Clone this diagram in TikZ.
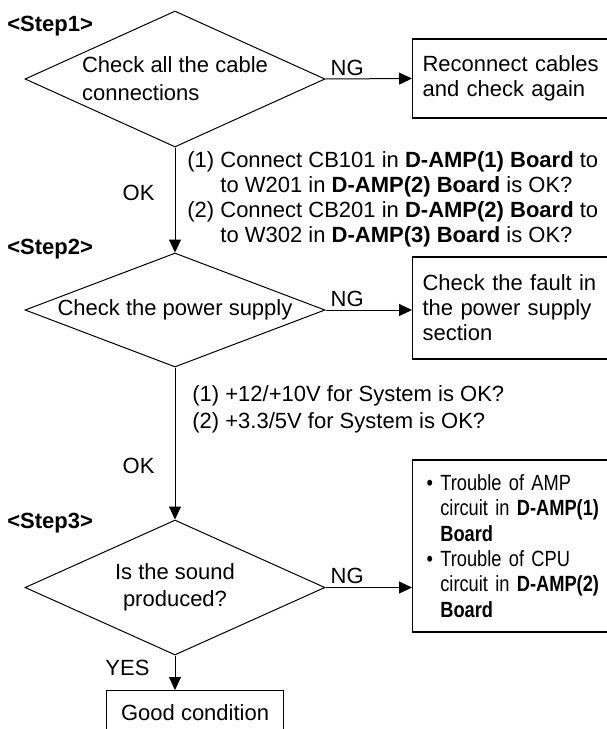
\documentclass[tikz,border=0pt]{standalone}
\usepackage{fontspec}
\setmainfont{Liberation Sans}
\newfontfamily\narrowsans[FakeStretch=0.83]{Liberation Sans}
\usetikzlibrary{arrows.meta,shapes.geometric}
\tikzset{
  decision/.style={diamond, draw=black, line width=0.5pt, inner sep=0pt,
                   minimum width=150pt, aspect=#1},
  outbox/.style={rectangle, draw=black, line width=0.6pt, anchor=west,
                 align=left, text width=95pt, inner xsep=5pt},
  steplabel/.style={anchor=base west, inner sep=0pt,
                    font=\fontsize{11}{12.5}\selectfont\bfseries},
  arr/.style={-{Triangle[length=6.5pt,width=6pt]}, line width=0.5pt},
  lbl/.style={inner sep=0pt},
}

\begin{document}
\begin{tikzpicture}[x=0.5pt, y=-0.5pt, font=\fontsize{11}{12.5}\selectfont]
    \useasboundingbox (0,0) rectangle (606,729);

    % step 1
    \node[steplabel] (s1) at (7,31) {<Step1>};
    \node[decision=2.2, minimum height=68pt, align=left,
          font=\fontsize{11}{14}\selectfont] (d1) at (175,79)
      {Check all the cable\\connections};
    \node[outbox, minimum height=39.5pt] (b1) at (412,78.5)
      {Reconnect cables\\and check again};
    \draw[arr] (d1.east) -- node[lbl, above=1.5pt, pos=0.25] (ng1) {NG} (b1.west);
    \node[lbl, anchor=base west, align=left] (q1) at (187,242)
      {(1) Connect CB101 in \textbf{D-AMP(1) Board} to\\
       \hphantom{(1)~}to W201 in \textbf{D-AMP(2) Board} is OK?\\
       (2) Connect CB201 in \textbf{D-AMP(2) Board} to\\
       \hphantom{(2)~}to W302 in \textbf{D-AMP(3) Board} is OK?};

    % step 2
    \node[steplabel] (s2) at (7,254) {<Step2>};
    \node[decision=2.63, minimum height=57pt] (d2) at (175,310)
      {Check the power supply};
    \node[outbox, minimum height=51pt] (b2) at (412,308)
      {Check the fault in\\the power supply\\section};
    \draw[arr] (d2.east) -- node[lbl, above=1.5pt, pos=0.25] (ng2) {NG} (d2.east -| b2.west);
    \draw[arr] (d1.south) -- node[lbl, left=10pt, pos=0.43] (ok1) {OK} (d2.north);
    \node[lbl, anchor=base west, align=left,
          font=\fontsize{11}{13.3}\selectfont] (q2) at (192,428)
      {(1) +12/+10V for System is OK?\\(2) +3.3/5V for System is OK?};

    % step 3
    \node[steplabel] (s3) at (7,528) {<Step3>};
    \node[decision=2.2, minimum height=67.5pt, align=center,
          font=\fontsize{11}{13.5}\selectfont] (d3) at (175,587.5)
      {Is the sound\\produced?};
    \node[outbox, minimum height=86pt, inner xsep=7pt,
          font=\fontsize{11}{12.7}\narrowsans] (b3) at (412,546)
      {\textbullet~Trouble of AMP\\
       \hphantom{\textbullet~}circuit in \textbf{D-AMP(1)}\\
       \hphantom{\textbullet~}\textbf{Board}\\
       \textbullet~Trouble of CPU\\
       \hphantom{\textbullet~}circuit in \textbf{D-AMP(2)}\\
       \hphantom{\textbullet~}\textbf{Board}};
    \draw[arr] (d3.east) -- node[lbl, above=1.5pt, pos=0.25] (ng3) {NG} (d3.east -| b3.west);
    \draw[arr] (d2.south) -- node[lbl, left=10pt, pos=0.65] (ok2) {OK} (d3.north);
    \node[rectangle, draw=black, line width=0.6pt, anchor=north west,
          minimum width=88.5pt, minimum height=22pt] (g) at (106,690) {Good condition};
    \draw[arr] (d3.south) -- node[lbl, left=12.5pt, pos=0.37] (yes) {YES} (d3.south |- g.north);
\end{tikzpicture}
\end{document}
